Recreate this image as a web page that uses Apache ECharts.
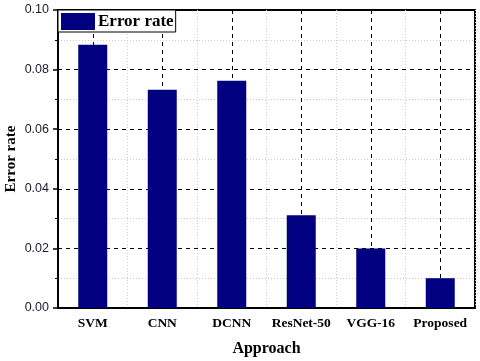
<!DOCTYPE html>
<html>
<head>
<meta charset="utf-8">
<script src="https://cdn.jsdelivr.net/npm/echarts@6/dist/echarts.min.js"></script>
<style>
  html, body { margin: 0; padding: 0; background: #fff; }
  #chart { width: 480px; height: 361px; }
</style>
</head>
<body>
<div id="chart"></div>
<script>
const approaches = ['SVM', 'CNN', 'DCNN', 'ResNet-50', 'VGG-16', 'Proposed'];
const errorRate = [0.0883, 0.0732, 0.0763, 0.0311, 0.0200, 0.0100];
const yTicks = [0, 0.02, 0.04, 0.06, 0.08, 0.10];

const chart = echarts.init(document.getElementById('chart'));

const serif = 'Liberation Serif, Times New Roman, serif';

let option = {
    animation: false,
    grid: {
        left: 58, right: 5, top: 10, bottom: 53,
        outerBoundsMode: 'none',
        show: true,
        borderColor: '#000',
        borderWidth: 2
    },
    legend: {
        data: ['Error rate'],
        left: 58,
        top: 10,
        orient: 'vertical',
        icon: 'rect',
        itemWidth: 34,
        itemHeight: 17,
        itemGap: 4,
        padding: [3, 2, 2, 3],
        borderColor: '#000',
        borderWidth: 1,
        backgroundColor: '#fff',
        textStyle: {
            fontFamily: serif,
            fontWeight: 'bold',
            fontSize: 17,
            color: '#000',
            padding: [0, 0, 0, -2]
        }
    },
    xAxis: [{
            type: 'category',
            data: approaches,
            name: 'Approach',
            nameLocation: 'middle',
            nameGap: 33,
            nameMoveOverlap: false,
            nameTextStyle: {
                fontFamily: serif,
                fontWeight: 'bold',
                fontSize: 16,
                color: '#000'
            },
            axisLine: { lineStyle: { color: '#000', width: 2 } },
            axisTick: {
                alignWithLabel: true,
                interval: 0,
                length: 4,
                lineStyle: { color: '#000', width: 1.5 }
            },
            axisLabel: {
                interval: 0,
                fontFamily: serif,
                fontWeight: 'bold',
                fontSize: 13.5,
                color: '#000',
                margin: 9
            },
            splitLine: {
                show: true,
                interval: 0,
                alignWithLabel: true,
                lineStyle: { color: '#000', type: [4, 4], width: 1 }
            }
        },
        {
            type: 'category',
            data: approaches,
            position: 'bottom',
            axisLine: { show: false },
            axisLabel: { show: false, interval: 0 },
            axisTick: {
                interval: 0,
                length: 4,
                lineStyle: { color: '#000', width: 1.5 }
            },
            splitLine: {
                show: true,
                interval: 0,
                lineStyle: { color: '#ccc', type: [1, 2], width: 1 }
            }
        }
    ],
    yAxis: {
        type: 'value',
        min: yTicks[0],
        max: yTicks[yTicks.length - 1],
        interval: 0.02,
        name: 'Error rate',
        nameLocation: 'middle',
        nameGap: 39,
        nameMoveOverlap: false,
        nameTextStyle: {
            fontFamily: serif,
            fontWeight: 'bold',
            fontSize: 15,
            color: '#000'
        },
        axisLine: { show: true, lineStyle: { color: '#000', width: 2 } },
        axisTick: { show: true, length: 5, lineStyle: { color: '#000', width: 1.5 } },
        minorTick: { show: true, splitNumber: 2, length: 3, lineStyle: { color: '#000', width: 1 } },
        axisLabel: {
            formatter: v => v.toFixed(2),
            fontFamily: 'Liberation Sans, Arial, sans-serif',
            fontSize: 12.5,
            color: '#1a1a2e',
            margin: 9
        },
        splitLine: {
            show: true,
            lineStyle: { color: '#000', type: [4, 4], width: 1 }
        },
        minorSplitLine: {
            show: true,
            lineStyle: { color: '#ccc', type: [1, 2], width: 1 }
        }
    },
    series: [{
        name: 'Error rate',
        type: 'bar',
        data: errorRate,
        barWidth: 29,
        itemStyle: {
            color: '#000080'
        }
    }]
};

chart.setOption(option);
</script>
</body>
</html>
